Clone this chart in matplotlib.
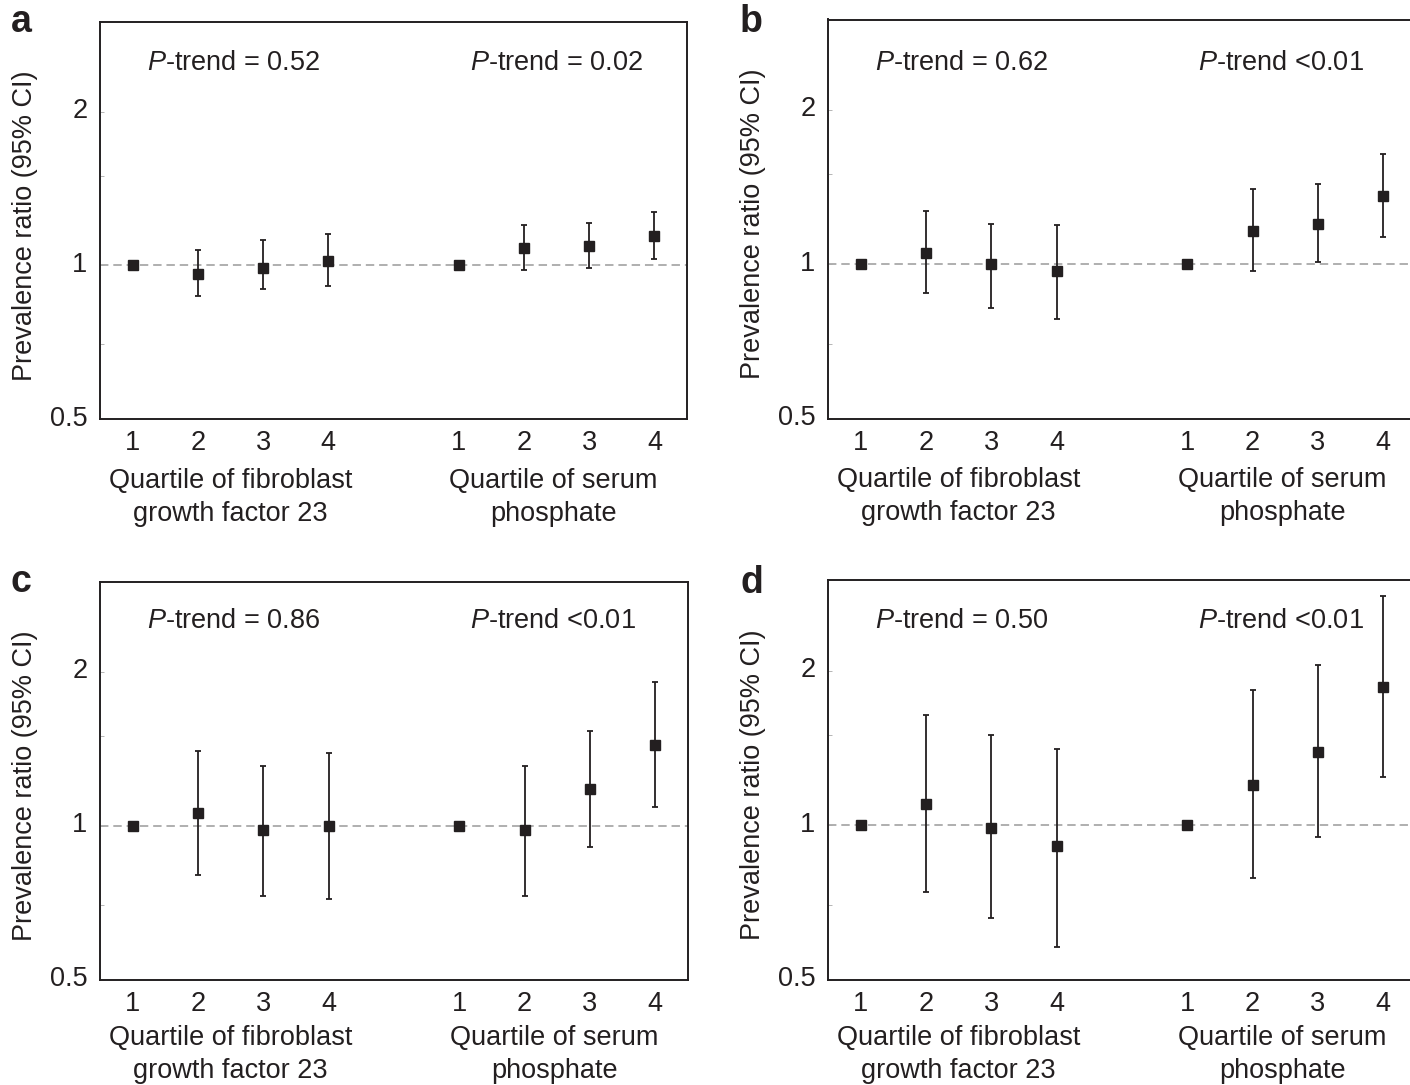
import matplotlib
matplotlib.use("Agg")
import matplotlib.pyplot as plt
import matplotlib.transforms as mtransforms
import numpy as np

plt.rcParams['font.family'] = ['Liberation Sans', 'DejaVu Sans']
plt.rcParams['mathtext.fontset'] = 'custom'
plt.rcParams['mathtext.rm'] = 'Liberation Sans'
plt.rcParams['mathtext.it'] = 'Liberation Sans:italic'

# ---- data ----
quartiles = ["1", "2", "3", "4"]
fgf_pos = [1, 2, 3, 4]
pho_pos = [6, 7, 8, 9]

a_fgf = [1.00, 0.96, 0.99, 1.02]
a_fgf_lo = [1.00, 0.87, 0.90, 0.91]
a_fgf_hi = [1.00, 1.07, 1.12, 1.15]
a_pho = [1.00, 1.08, 1.09, 1.14]
a_pho_lo = [1.00, 0.98, 0.99, 1.03]
a_pho_hi = [1.00, 1.20, 1.21, 1.27]

b_fgf = [1.00, 1.05, 1.00, 0.97]
b_fgf_lo = [1.00, 0.88, 0.82, 0.78]
b_fgf_hi = [1.00, 1.27, 1.20, 1.19]
b_pho = [1.00, 1.16, 1.20, 1.36]
b_pho_lo = [1.00, 0.97, 1.01, 1.13]
b_pho_hi = [1.00, 1.40, 1.43, 1.64]

c_fgf = [1.00, 1.06, 0.98, 1.00]
c_fgf_lo = [1.00, 0.80, 0.73, 0.72]
c_fgf_hi = [1.00, 1.40, 1.31, 1.39]
c_pho = [1.00, 0.98, 1.18, 1.44]
c_pho_lo = [1.00, 0.73, 0.91, 1.09]
c_pho_hi = [1.00, 1.31, 1.53, 1.91]

d_fgf = [1.00, 1.10, 0.99, 0.91]
d_fgf_lo = [1.00, 0.74, 0.66, 0.58]
d_fgf_hi = [1.00, 1.64, 1.50, 1.41]
d_pho = [1.00, 1.20, 1.39, 1.86]
d_pho_lo = [1.00, 0.79, 0.95, 1.24]
d_pho_hi = [1.00, 1.83, 2.05, 2.79]

ptrend_left = ["$P$-trend = 0.52", "$P$-trend = 0.62", "$P$-trend = 0.86", "$P$-trend = 0.50"]
ptrend_right = ["$P$-trend = 0.02", "$P$-trend <0.01", "$P$-trend <0.01", "$P$-trend <0.01"]
panel_letters = ["a", "b", "c", "d"]
ylabel = "Prevalence ratio (95% CI)"
xlabel_fgf = "Quartile of fibroblast\ngrowth factor 23"
xlabel_pho = "Quartile of serum\nphosphate"
ytick_vals = [0.5, 1, 2]
ytick_labels = ["0.5", "1", "2"]

panels = [
    (a_fgf, a_fgf_lo, a_fgf_hi, a_pho, a_pho_lo, a_pho_hi),
    (b_fgf, b_fgf_lo, b_fgf_hi, b_pho, b_pho_lo, b_pho_hi),
    (c_fgf, c_fgf_lo, c_fgf_hi, c_pho, c_pho_lo, c_pho_hi),
    (d_fgf, d_fgf_lo, d_fgf_hi, d_pho, d_pho_lo, d_pho_hi),
]

W, H = 1410, 1085
fig = plt.figure(figsize=(W / 100, H / 100), dpi=100)
TXT = '#231f20'
FS = 19.5

# axes boxes in pixels: left, top, width, height
boxes = [(100, 22, 587, 397), (828, 19.5, 588, 399), (100, 581.5, 588, 398.5), (828, 580, 588, 400)]
letter_pos = [(11, 32), (740, 32), (11, 592), (740, 593)]
xlab_gap = [49, 49, 45, 45]
ptrend_y = [63, 63, 621, 621]
ylab_shift = mtransforms.ScaledTranslation(0, 3.5 / 100, fig.dpi_scale_trans)

for i, (box, data) in enumerate(zip(boxes, panels)):
    l, t, w, h = box
    ax = fig.add_axes([l / W, 1 - (t + h) / H, w / W, h / H])
    ax.set_yscale('log')
    ax.set_ylim(0.5, 3.0)
    ax.set_xlim(0.5, 9.5)
    ax.axhline(1.0, color='#9a9a9a', lw=1.1, dashes=(5.5, 3.2), zorder=1)
    fv, flo, fhi, pv, plo, phi = data
    for pos, v, lo, hi in ((fgf_pos, fv, flo, fhi), (pho_pos, pv, plo, phi)):
        v = np.array(v); lo = np.array(lo); hi = np.array(hi)
        yerr = np.vstack([v - lo, hi - v])
        ax.errorbar(pos[1:], v[1:], yerr=yerr[:, 1:], fmt='none', ecolor=TXT,
                    elinewidth=1.3, capsize=2.3, capthick=1.3, zorder=2)
        ax.plot(pos, v, 's', color=TXT, markersize=6.5, zorder=3)
    ax.set_xticks(fgf_pos + pho_pos)
    ax.set_xticklabels(quartiles + quartiles)
    ax.set_yticks(ytick_vals)
    ax.set_yticklabels(ytick_labels)
    ax.yaxis.set_minor_locator(matplotlib.ticker.FixedLocator([0.7, 1.5]))
    ax.yaxis.set_minor_formatter(matplotlib.ticker.NullFormatter())
    ax.tick_params(axis='x', length=0, pad=8, labelsize=FS, labelcolor=TXT)
    ax.tick_params(axis='y', which='major', direction='in', length=3, width=0.6,
                   color='#aaaaaa', pad=9, labelsize=FS, labelcolor=TXT)
    ax.tick_params(axis='y', which='minor', direction='in', length=3, width=0.6,
                   color='#aaaaaa')
    for lab in ax.get_yticklabels():
        lab.set_transform(lab.get_transform() + ylab_shift)
    for s in ax.spines.values():
        s.set_linewidth(1.4)
        s.set_color(TXT)
    trans = mtransforms.blended_transform_factory(ax.transData, ax.transAxes)
    ptop = 1 - (ptrend_y[i] - t) / h
    ax.text(1.22, ptop, ptrend_left[i], transform=trans, ha='left', va='center',
            fontsize=FS, color=TXT)
    ax.text(6.17, ptop, ptrend_right[i], transform=trans, ha='left', va='center',
            fontsize=FS, color=TXT)
    # x group labels
    gy = 1 - (t + h + xlab_gap[i]) / H
    fig.text((l + (2.5 - 0.5) / 9.0 * w) / W, gy, xlabel_fgf,
             ha='center', va='top', fontsize=FS, color=TXT, linespacing=1.34)
    fig.text((l + (7.45 - 0.5) / 9.0 * w) / W, gy, xlabel_pho,
             ha='center', va='top', fontsize=FS, color=TXT, linespacing=1.34)
    # y label
    fig.text((l - 75) / W, 1 - (t + h / 2 + 5) / H, ylabel, rotation=90,
             ha='center', va='center', fontsize=FS, color=TXT)
    lx, ly = letter_pos[i]
    fig.text(lx / W, 1 - ly / H, panel_letters[i], ha='left', va='baseline',
             fontsize=27, fontweight='bold', color=TXT)

fig.savefig('out.png', dpi=100)
